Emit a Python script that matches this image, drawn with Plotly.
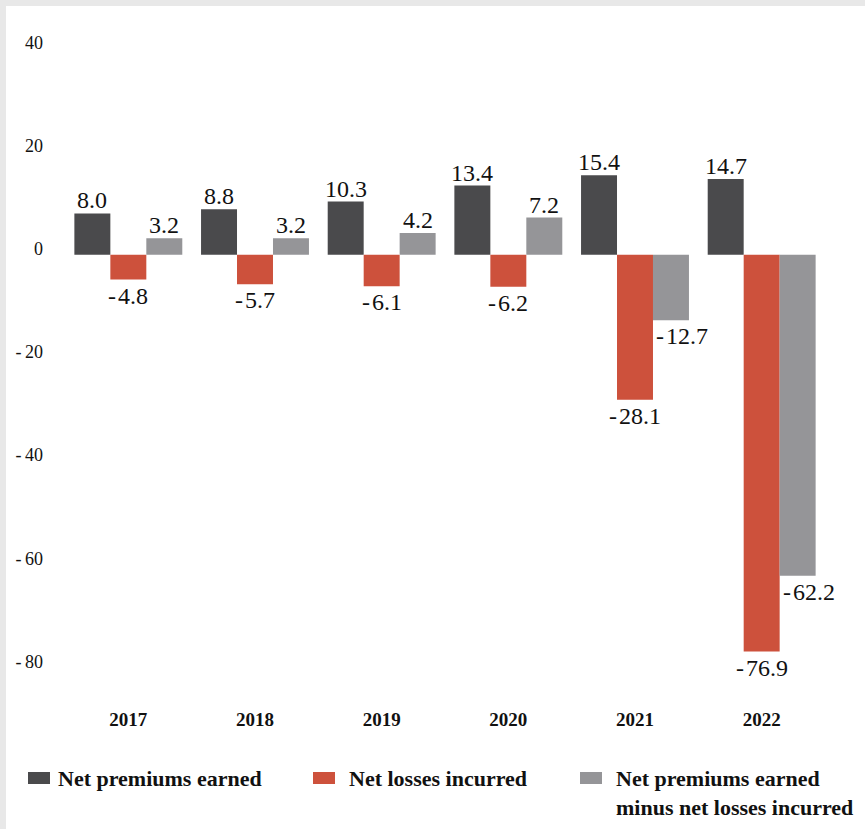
import plotly.graph_objects as go

# Data (USD bn)
years = ["2017", "2018", "2019", "2020", "2021", "2022"]
net_premiums_earned = [8.0, 8.8, 10.3, 13.4, 15.4, 14.7]
net_losses_incurred = [-4.8, -5.7, -6.1, -6.2, -28.1, -76.9]
net_premiums_minus_losses = [3.2, 3.2, 4.2, 7.2, -12.7, -62.2]

series_names = [
    "Net premiums earned",
    "Net losses incurred",
    "Net premiums earned<br>minus net losses incurred",
]
series_values = [net_premiums_earned, net_losses_incurred, net_premiums_minus_losses]
series_colors = ["#4a4a4c", "#cd513c", "#959598"]

y_tickvals = [40, 20, 0, -20, -40, -60, -80]
y_ticktext = ["40", "20", "0", "-\u200920", "-\u200940", "-\u200960", "-\u200980"]

SERIF = "Liberation Serif, Times New Roman, serif"
W, H = 865, 829
M_L, M_R, M_T, M_B = 65, 40, 38, 133
PLOT_W = W - M_L - M_R
PLOT_H = H - M_T - M_B
Y_RANGE = [-85.5, 42]
# tick labels sit a few pixels above their gridline value
LABEL_LIFT = 6 * (Y_RANGE[1] - Y_RANGE[0]) / PLOT_H


def px_x(x):
    return (x - M_L) / PLOT_W


def px_y(y):
    return (H - M_B - y) / PLOT_H


def fmt(v):
    s = f"{v:.1f}"
    return s.replace("-", "-\u200a")


fig = go.Figure()
for name, vals, col in zip(series_names, series_values, series_colors):
    fig.add_trace(go.Bar(
        x=years, y=vals, name=name.replace("<br>", " "),
        marker=dict(color=col, line=dict(width=0)),
        showlegend=False, hoverinfo="x+y",
    ))

# invisible trace that carries the tick-label axis
fig.add_trace(go.Scatter(x=[years[0]], y=[0], yaxis="y2", mode="markers",
                         marker=dict(opacity=0), showlegend=False, hoverinfo="skip"))

annotations = []
bar_px = 36
offsets = [-bar_px, 0, bar_px]
for k, vals in enumerate(series_values):
    for i, v in enumerate(vals):
        # category index keeps the label on its year's slot
        ann = dict(x=i, y=v, xref="x", yref="y", text=fmt(v), showarrow=False,
                   font=dict(family=SERIF, size=24, color="#111"),
                   xshift=offsets[k])
        if v >= 0:
            ann.update(yanchor="bottom", yshift=-2)
        else:
            ann.update(yanchor="top", yshift=-1)
        # gray labels next to the taller red bar sit to the right
        if k == 2 and v < -10:
            ann.update(xanchor="left", xshift=offsets[k] - bar_px / 2 + 1)
        annotations.append(ann)

# Legend: colour swatches and bold labels below the axis
legend_items = [(28, 57), (313, 348), (580, 615)]
shapes = [
    dict(type="rect", xref="paper", yref="paper",
         x0=px_x(6), x1=px_x(W + 5), y0=px_y(H + 5), y1=px_y(6),
         fillcolor="white", line=dict(width=0), layer="below"),
]
for (sx, tx), name, col in zip(legend_items, series_names, series_colors):
    shapes.append(dict(type="rect", xref="paper", yref="paper",
                       x0=px_x(sx), x1=px_x(sx + 22), y0=px_y(784), y1=px_y(772),
                       fillcolor=col, line=dict(width=0)))
    annotations.append(dict(x=px_x(tx - 1), y=px_y(764), xref="paper", yref="paper",
                            xanchor="left", yanchor="top", align="left",
                            text=f"<b>{name}</b>", showarrow=False,
                            font=dict(family=SERIF, size=22, color="#111")))

fig.update_layout(
    width=W, height=H,
    margin=dict(l=M_L, r=M_R, t=M_T, b=M_B, pad=0),
    paper_bgcolor="#e8e8e8",
    plot_bgcolor="rgba(0,0,0,0)",
    barmode="group", bargap=0.148, bargroupgap=0,
    shapes=shapes, annotations=annotations,
    xaxis=dict(
        type="category", range=[-0.5, len(years) - 0.5],
        showgrid=False, zeroline=False, showline=False, ticks="",
        tickfont=dict(family=SERIF, size=19, color="#111", weight="bold"),
        ticklabelstandoff=10,
    ),
    yaxis=dict(
        range=Y_RANGE, showgrid=False, zeroline=False, showline=False, ticks="",
        showticklabels=False,
    ),
    yaxis2=dict(
        overlaying="y", side="left", anchor="x",
        range=[Y_RANGE[0] - LABEL_LIFT, Y_RANGE[1] - LABEL_LIFT],
        showgrid=False, zeroline=False, showline=False, ticks="",
        tickvals=y_tickvals, ticktext=y_ticktext,
        tickfont=dict(family=SERIF, size=18, color="#111"),
        ticklabelstandoff=21,
    ),
)

fig.write_html("out.html")
